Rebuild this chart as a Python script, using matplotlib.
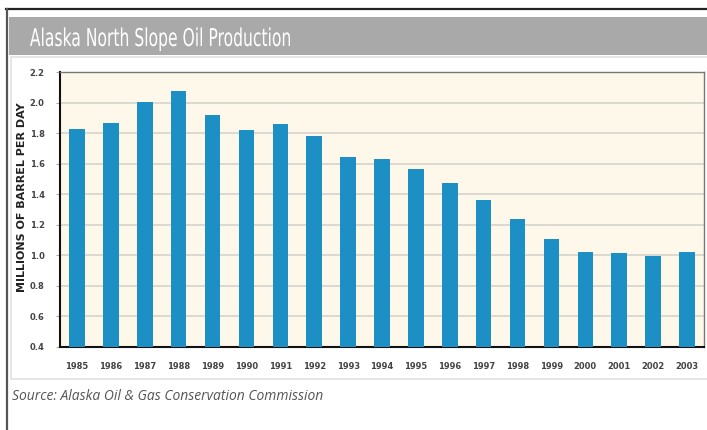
import matplotlib.pyplot as plt
from matplotlib.patches import Rectangle, PathPatch
from matplotlib.lines import Line2D
from matplotlib.textpath import TextPath
from matplotlib.font_manager import FontProperties
from matplotlib.transforms import Affine2D, IdentityTransform

W, H = 707, 430

years = ["1985", "1986", "1987", "1988", "1989", "1990", "1991", "1992", "1993", "1994",
         "1995", "1996", "1997", "1998", "1999", "2000", "2001", "2002", "2003"]
production = [1.83, 1.865, 2.005, 2.075, 1.92, 1.82, 1.86, 1.78, 1.645, 1.63,
              1.567, 1.472, 1.364, 1.239, 1.106, 1.023, 1.014, 0.993, 1.019]
yticks = [0.4, 0.6, 0.8, 1.0, 1.2, 1.4, 1.6, 1.8, 2.0, 2.2]

bar_color = "#1c8fc4"
title = "Alaska North Slope Oil Production"
ylabel = "MILLIONS OF BARREL PER DAY"
source = "Source: Alaska Oil & Gas Conservation Commission"


def fx(px):
    return px / W


def fy(py):
    return 1 - py / H


fig = plt.figure(figsize=(W / 100, H / 100), dpi=100)
fig.patch.set_facecolor("white")

# frame lines, title bar and the chart panel (behind the axes)
fig.add_artist(Line2D([fx(6), fx(707)], [fy(9), fy(9)], color="#222222", lw=1.6, zorder=-1))
fig.add_artist(Line2D([fx(7), fx(7)], [fy(9), fy(430)], color="#555555", lw=1.6, zorder=-1))
fig.add_artist(Rectangle((fx(9), fy(55)), fx(707 - 9), 38 / H, facecolor="#a9a9a9",
                         edgecolor="none", zorder=-2))
fig.add_artist(Rectangle((fx(11), fy(379)), fx(720 - 11), (379 - 57) / H, facecolor="white",
                         edgecolor="#e2e2e2", lw=1.2, zorder=-2))

# title in a condensed face: squeeze a text path to the width of the original
tp = TextPath((0, 0), title, size=24.5, prop=FontProperties(family="DejaVu Sans"))
ext = tp.get_extents()
sx = 260 / ext.width
tr = Affine2D().translate(-ext.x0, 0).scale(sx, 1.0).translate(30, H - 46)
fig.add_artist(PathPatch(tr.transform_path(tp), facecolor="white", edgecolor="none",
                         transform=IdentityTransform(), zorder=1))

fig.text(fx(12), fy(397), source, color="#555555", fontsize=10, style="italic",
         family="Open Sans", va="center", ha="left")

ax = fig.add_axes([fx(60), fy(346.7), fx(704 - 60), (346.7 - 72.3) / H], zorder=2)
ax.set_facecolor("#fdf8ea")
x = list(range(len(years)))
ax.bar(x, production, width=0.46, color=bar_color, zorder=3)
ax.set_xlim(-0.5, len(years) - 0.5)
ax.set_ylim(0.4, 2.2)
ax.set_yticks(yticks)
ax.set_yticklabels([f"{v:.1f}" for v in yticks])
ax.set_xticks(x)
ax.set_xticklabels(years)
ax.grid(axis="y", color="#dcd9d0", lw=1.4, zorder=1)
ax.tick_params(axis="x", length=0, pad=11, labelsize=6, labelcolor="#444444")
ax.tick_params(axis="y", length=3, width=0.6, color="#999999", pad=8, labelsize=6,
               labelcolor="#444444")
for lab in ax.get_xticklabels() + ax.get_yticklabels():
    lab.set_fontweight("bold")

for side in ["left", "bottom"]:
    ax.spines[side].set_color("#111111")
    ax.spines[side].set_linewidth(1.5)
for side in ["top", "right"]:
    ax.spines[side].set_color("#777777")
    ax.spines[side].set_linewidth(1.0)

fig.text(fx(22), fy(197), ylabel, rotation=90, fontsize=8, fontweight="bold",
         color="#222222", va="center", ha="center")

fig.savefig("out.png", dpi=100)
